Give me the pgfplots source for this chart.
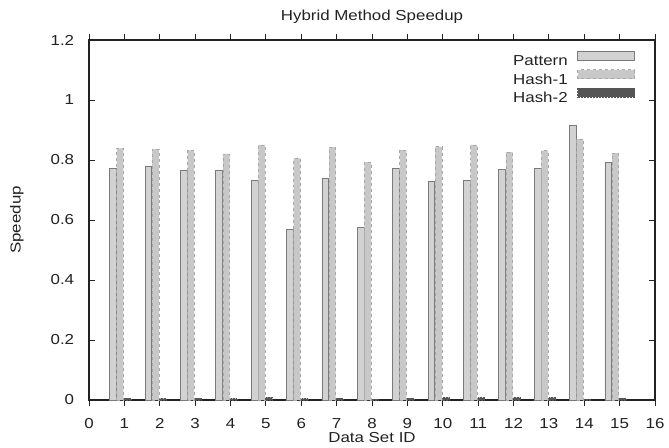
\documentclass[border=0pt]{standalone}
\usepackage{pgfplots}
\pgfplotsset{compat=1.18}
\usepackage{fontspec}
\setmainfont[FakeStretch=1.17]{Liberation Sans}
\definecolor{patfill}{HTML}{D2D2D2}
\definecolor{patedge}{HTML}{7A7A7A}
\definecolor{h1fill}{HTML}{C8C8C8}
\definecolor{h1edge}{HTML}{A8A8A8}
\definecolor{h2fill}{HTML}{555555}
\definecolor{txt}{HTML}{222222}
\newcommand{\bigf}{\fontsize{14.5}{17}\selectfont}
\begin{document}
\begin{tikzpicture}
\useasboundingbox (0,0) rectangle (669bp,448bp);
\begin{axis}[
  at={(89bp,48bp)}, anchor=south west,
  scale only axis, width=566bp, height=360bp,
  xmin=0, xmax=16, ymin=0, ymax=1.2,
  xtick={0,1,...,16}, ytick={0,0.2,...,1.2},
  yticklabel style={/pgf/number format/fixed},
  /pgf/number format/assume math mode=true,
  tick align=inside, major tick length=6bp,
  axis line style={line width=1.1pt, color=txt},
  tick style={line width=0.8pt, color=txt},
  ticklabel style={color=txt, font=\bigf},
  xticklabel style={anchor=north, inner sep=0pt, yshift=-12bp},
  yticklabel style={anchor=east, inner sep=0pt, xshift=-14.7bp},
  clip=false,
  ybar, bar width=0.19,
  legend style={at={(axis description cs:0.9647,0.970)}, anchor=north east, draw=none, fill=none,
    inner sep=0pt, outer sep=0pt, row sep=3.5bp, column sep=0bp,
    nodes={font=\bigf, inner sep=0pt, text height=10bp, text depth=0bp, text=txt}},
  legend cell align=right,
  legend plot pos=right,
  legend image code/.code={\path[draw=none, fill=none] (0bp,0bp) rectangle (67bp,10bp); \draw[#1, bar shift=0pt] (10bp,0.5bp) rectangle (67bp,9.5bp);},
]
\addplot[bar shift=-0.32, fill=patfill, draw=patedge, line width=0.7pt] coordinates {
(1,0.772) (2,0.780) (3,0.767) (4,0.767) (5,0.732) (6,0.568) (7,0.739) (8,0.574)
(9,0.771) (10,0.728) (11,0.733) (12,0.769) (13,0.771) (14,0.916) (15,0.793)};
\addlegendentry{Pattern}
\addplot[bar shift=-0.12, fill=h1fill, draw=h1edge, dashed, line width=0.7pt] coordinates {
(1,0.839) (2,0.836) (3,0.832) (4,0.820) (5,0.850) (6,0.805) (7,0.843) (8,0.793)
(9,0.833) (10,0.844) (11,0.850) (12,0.826) (13,0.831) (14,0.870) (15,0.823)};
\addlegendentry{Hash-1}
\addplot[bar shift=0.09, fill=h2fill, draw=h2fill, densely dotted, line width=0.5pt] coordinates {
(1,0.006) (2,0.005) (3,0.006) (4,0.005) (5,0.009) (6,0.005) (7,0.006) (8,0.002)
(9,0.006) (10,0.008) (11,0.008) (12,0.008) (13,0.008) (14,0.002) (15,0.006)};
\addlegendentry{Hash-2}
\node[font=\bigf, text=txt, inner sep=0pt, anchor=center] at (axis description cs:0.5,1.0639) {Hybrid Method Speedup};
\node[font=\bigf, text=txt, inner sep=0pt, anchor=center] at (axis description cs:0.5,-0.1056) {Data Set ID};
\node[font=\bigf, text=txt, inner sep=0pt, anchor=center, rotate=90] at (axis description cs:-0.1272,0.5) {Speedup};
\end{axis}
\end{tikzpicture}
\end{document}
